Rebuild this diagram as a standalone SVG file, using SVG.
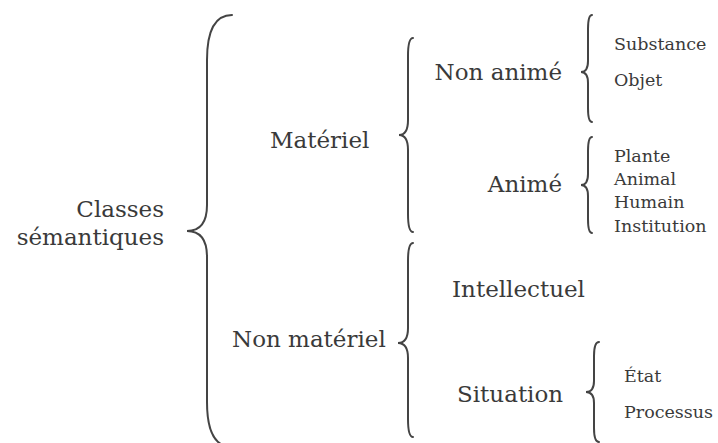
<svg xmlns="http://www.w3.org/2000/svg" width="718" height="443" viewBox="0 0 718 443">
<style>
text{font-family:"DejaVu Serif","Liberation Serif",serif;fill:#3a3a3a}
.b{font-size:23px}
.s{font-size:17.5px}
.e{text-anchor:end}
.br{fill:none;stroke:#444;stroke-width:2;stroke-linecap:round}
</style>
<rect width="718" height="443" fill="#fff"/>
<g id="connectors">
<path class="br" d="M232,15 Q207,15 207,60 L207,205 Q207,231 187,231 Q207,231 207,257 L207,402 Q207,447 232,447"/>
<path class="br" d="M413,38 Q408,38 408,56 L408,120 Q408,135 399,135 Q408,135 408,150 L408,214 Q408,232 413,232"/>
<path class="br" d="M413,243 Q408,243 408,261 L408,328 Q408,343 398,343 Q408,343 408,358 L408,419 Q408,437 413,437"/>
<path class="br" d="M592,15 Q588,15 588,29 L588,61 Q588,72 581,72 Q588,72 588,83 L588,108 Q588,122 592,122"/>
<path class="br" d="M592,137 Q588,137 588,151 L588,174 Q588,185 581,185 Q588,185 588,196 L588,219 Q588,233 592,233"/>
<path class="br" d="M599,342 Q594,342 594,356 L594,381 Q594,392 586,392 Q594,392 594,403 L594,428 Q594,442 599,442"/>
</g>
<g id="root"><text class="b e" x="164" y="217">Classes</text><text class="b e" x="164" y="245">sémantiques</text></g>
<g id="materiel"><text class="b" x="270" y="148">Matériel</text></g>
<g id="non-materiel"><text class="b" x="232" y="347">Non matériel</text></g>
<g id="non-anime"><text class="b e" x="562" y="80">Non animé</text></g>
<g id="anime"><text class="b e" x="562" y="192">Animé</text></g>
<g id="intellectuel"><text class="b" x="452" y="297">Intellectuel</text></g>
<g id="situation"><text class="b" x="457" y="402">Situation</text></g>
<g id="substance"><text class="s" x="614" y="50">Substance</text></g>
<g id="objet"><text class="s" x="614" y="86">Objet</text></g>
<g id="plante"><text class="s" x="614" y="162">Plante</text></g>
<g id="animal"><text class="s" x="614" y="185">Animal</text></g>
<g id="humain"><text class="s" x="614" y="208">Humain</text></g>
<g id="institution"><text class="s" x="614" y="232">Institution</text></g>
<g id="etat"><text class="s" x="624" y="382">État</text></g>
<g id="processus"><text class="s" x="624" y="418">Processus</text></g>
</svg>
